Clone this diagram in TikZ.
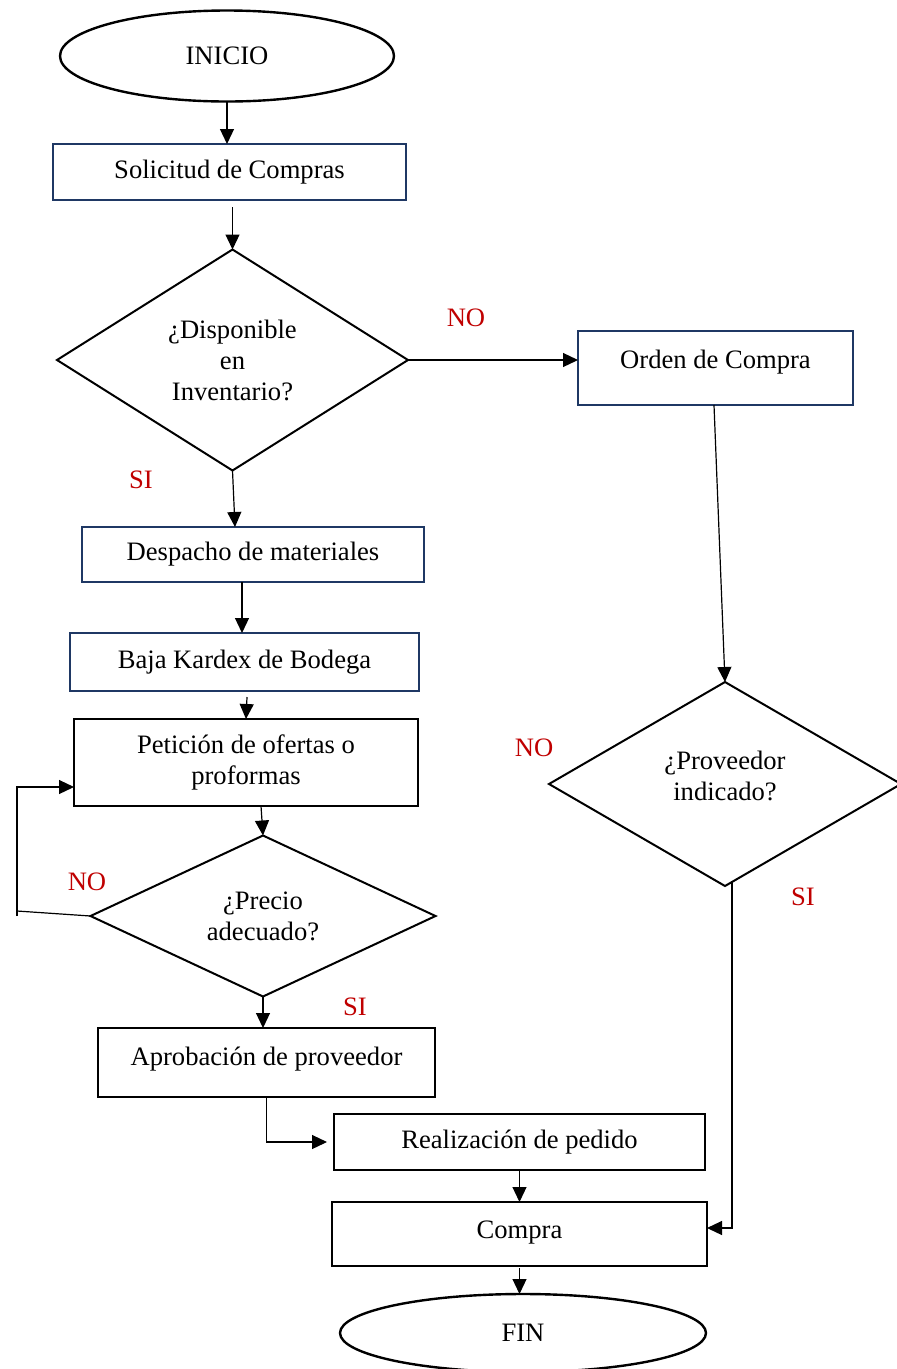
\documentclass[tikz,border=0pt]{standalone}
\usepackage{fontspec}
\setmainfont{Liberation Serif}
\usetikzlibrary{shapes.geometric,arrows.meta,calc}
\definecolor{navy}{RGB}{31,56,100}
\definecolor{redlbl}{RGB}{192,0,0}
\begin{document}
\begin{tikzpicture}[x=1pt,y=-1pt,
  every node/.style={font=\fontsize{26.6}{31}\selectfont, inner sep=0pt, outer sep=0pt},
  nbox/.style={draw=navy, line width=2.4pt, rectangle},
  kbox/.style={draw=black, line width=2.4pt, rectangle},
  term/.style={draw=black, line width=2.4pt, ellipse},
  dec/.style={draw=black, line width=2pt, diamond, aspect=1.6, align=center},
  lbl/.style={text=redlbl},
  plainline/.style={line width=1.2pt, draw=black},
  conn/.style={plainline, -{Triangle[length=15pt,width=14pt]}}
]
\fill[white] (0,0) rectangle (897,1369);
\useasboundingbox (0,0) rectangle (897,1369);

% nodes
\node[term, minimum width=334, minimum height=91] (ini) at (227,56) {INICIO};
\node[nbox, minimum width=353, minimum height=56] (sol) at (229.5,172) {Solicitud de Compras};
\node[dec, minimum width=351, minimum height=221] (d1) at (232.5,360) {¿Disponible\\en\\Inventario?};
\node[nbox, minimum width=275, minimum height=74, text depth=18pt] (ord) at (715.5,368) {Orden de Compra};
\node[dec, minimum width=352, minimum height=204, text depth=16pt] (d2) at (725,784) {¿Proveedor\\indicado?};
\node[nbox, minimum width=342, minimum height=55] (disp) at (253,554.5) {Despacho de materiales};
\node[nbox, minimum width=349, minimum height=58] (baja) at (244.5,662) {Baja Kardex de Bodega};
\node[kbox, minimum width=344, minimum height=87, align=center] (pet) at (246,762.5) {Petición de ofertas o\\proformas};
\node[dec, minimum width=345, minimum height=161, aspect=2.1] (d3) at (263,916) {¿Precio\\adecuado?};
\node[kbox, minimum width=337, minimum height=69, text depth=12pt] (apr) at (266.5,1062.5) {Aprobación de proveedor};
\node[kbox, minimum width=371, minimum height=56] (real) at (519.5,1142) {Realización de pedido};
\node[kbox, minimum width=375, minimum height=64, text depth=8pt] (comp) at (519.5,1234) {Compra};
\node[term, minimum width=366, minimum height=78] (fin) at (523,1333) {FIN};

% labels
\node[lbl] (no1) at (466,318) {NO};
\node[lbl] (si1) at (141,480) {SI};
\node[lbl] (no2) at (534,748) {NO};
\node[lbl] (si2) at (803,897) {SI};
\node[lbl] (no3) at (87,882) {NO};
\node[lbl] (si3) at (355,1007) {SI};

% helper coordinates
\coordinate (lpA) at (17,911);
\coordinate (lpB) at (17,916);
\coordinate (lpT) at (17,787);
\coordinate (c2) at (732,1228);

% connectors
\draw[conn] (ini.south) -- (ini.south |- sol.north);
\draw[conn] ($(sol.south -| d1.north)+(0,7)$) -- (d1.north);
\draw[conn] (d1.east) -- (d1.east -| ord.west);
\draw[conn] ($(ord.south)+(-1.5,0)$) -- (d2.north);
\draw[conn] (d1.south) -- ($(disp.north)+(-18,0)$);
\draw[conn] ($(disp.south)+(-11,0)$) -- ($(baja.north)+(-2.5,0)$);
\draw[conn] ($(baja.south)+(2.5,6)$) -- (pet.north);
\draw[conn] ($(pet.south)+(15,0)$) -- (d3.north);
\draw[plainline] (d3.west) -- (lpA);
\draw[conn] (lpB) -- (lpT) -- (lpT -| pet.west);
\draw[conn] (d3.south) -- (d3.south |- apr.north);
\draw[conn, shorten >=7pt] (apr.south) -- (apr.south |- real.west) -- (real.west);
\draw[conn] (real.south) -- (comp.north);
\draw[conn] ($(d2.south)+(7,-4)$) -- (c2) -- (c2 -| comp.east);
\draw[conn] ($(comp.south)+(0,2)$) -- (comp.south |- fin.north);
\end{tikzpicture}
\end{document}
